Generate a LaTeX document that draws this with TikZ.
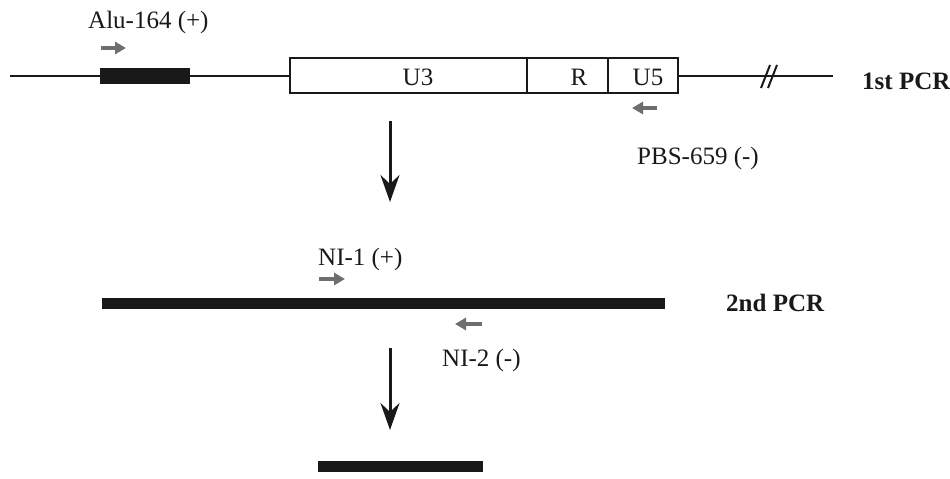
\documentclass[tikz,border=0pt]{standalone}
\usepackage{fontspec}
\setmainfont{Liberation Serif}
\usetikzlibrary{arrows.meta}
\definecolor{primergray}{RGB}{110,110,110}
\definecolor{ink}{RGB}{25,25,25}
\begin{document}
\begin{tikzpicture}[x=1pt,y=-1pt,
  lbl/.style={font=\fontsize{25}{30}\selectfont, inner sep=0pt, anchor=base west, text=ink},
  pcr/.style={font=\fontsize{25}{30}\selectfont\bfseries, inner sep=0pt, anchor=base west, text=ink},
  seg/.style={font=\fontsize{25}{30}\selectfont, inner sep=0pt, anchor=base, text=ink},
  dna/.style={draw=ink, line width=2pt},
  ltr/.style={draw=ink, line width=2.5pt},
  bar/.style={draw=ink, line width=10.5pt},
  primer/.style={draw=primergray, line width=4.5pt, -{Triangle[length=11pt,width=12pt]}},
  bigarrow/.style={draw=ink, line width=3pt, -{Stealth[length=27pt,width=19pt,inset=9pt]}}
]
\useasboundingbox (0,0) rectangle (950,479);

% 1st PCR template
\coordinate (l0) at (10,76);
\coordinate (l1) at (290,76);
\coordinate (r0) at (678,76);
\coordinate (r1) at (833,76);
\draw[dna] (l0) -- (l1);
\draw[dna] (r0) -- (r1);
\fill[ink] (100,68) rectangle (190,84);
\draw[ltr] (290,58) rectangle (678,93);
\draw[ltr] (527,58) -- (527,93);
\draw[ltr] (608,58) -- (608,93);
\node[seg] (u3) at (418,85) {U3};
\node[seg] (r) at (579,85) {R};
\node[seg] (u5) at (648,85) {U5};
% break mark
\draw[ink, line width=2pt] (761,88) -- (770,65);
\draw[ink, line width=2pt] (768,88) -- (777,65);

\node[pcr] (p1) at (862,89) {1st PCR};

% primers 1st PCR
\node[lbl] (alu) at (88,28) {Alu-164 (+)};
\coordinate (a0) at (101,48);
\coordinate (a1) at (126,48);
\draw[primer] (a0) -- (a1);
\coordinate (b0) at (657,108);
\coordinate (b1) at (632,108);
\draw[primer] (b0) -- (b1);
\node[lbl] (pbs) at (637,164) {PBS-659 (-)};

% arrow 1
\coordinate (d0) at (390,121);
\coordinate (d1) at (390,202);
\draw[bigarrow] (d0) -- (d1);

% 2nd PCR
\node[lbl] (ni1) at (318,265) {NI-1 (+)};
\coordinate (n0) at (319,279);
\coordinate (n1) at (345,279);
\draw[primer] (n0) -- (n1);
\coordinate (m0) at (102,303.5);
\coordinate (m1) at (665,303.5);
\draw[bar] (m0) -- (m1);
\node[pcr] (p2) at (726,311) {2nd PCR};
\coordinate (k0) at (482,324);
\coordinate (k1) at (455,324);
\draw[primer] (k0) -- (k1);
\node[lbl] (ni2) at (442,366) {NI-2 (-)};

% arrow 2
\coordinate (e0) at (390,348);
\coordinate (e1) at (390,430);
\draw[bigarrow] (e0) -- (e1);

% product
\coordinate (f0) at (318,466.5);
\coordinate (f1) at (483,466.5);
\draw[bar] (f0) -- (f1);
\end{tikzpicture}
\end{document}
